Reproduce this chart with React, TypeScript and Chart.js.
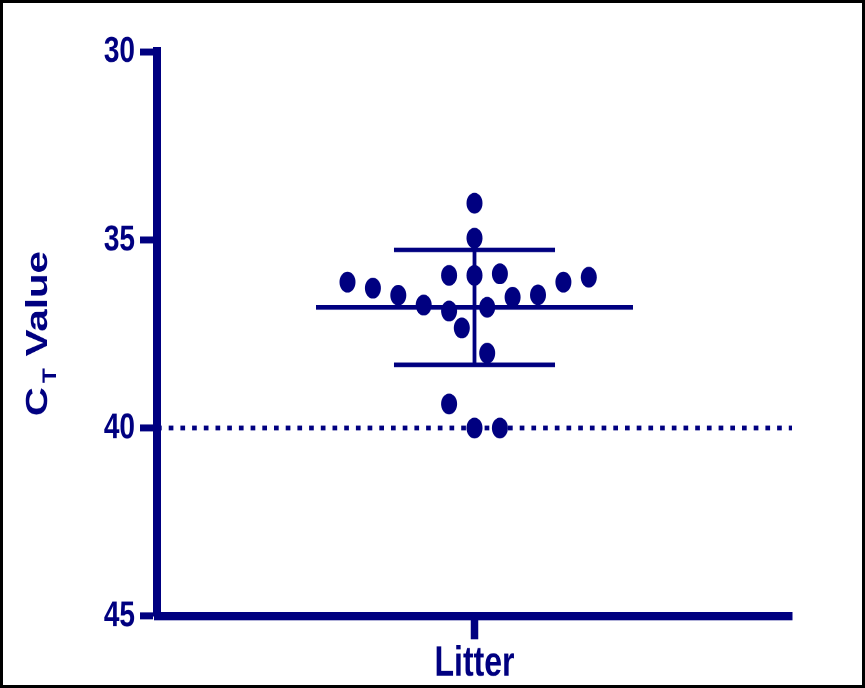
import React, { useEffect, useRef } from "react";
import { Chart, registerables } from "chart.js";

Chart.register(...registerables);

// ---- data ----
const categories = ["Litter"];
const jitter = [-5, -4, -3, -2, -1, -1, -0.5, 0, 0, 0, 0.5, 0.5, 1, 1.5, 2.5, 3.5, 4.5, -1, 0, 1];
const ctValues = [36.12, 36.28, 36.47, 36.73, 35.94, 36.89, 37.34, 34.02, 34.95, 35.94, 36.79, 38.01, 35.9, 36.52, 36.46, 36.12, 35.99, 39.36, 40.0, 40.0];
const yTicks = [30, 35, 40, 45];
const detectionLimit = [40];

// ---- style ----
const NAVY = "#000080";
const FONT = "'Liberation Sans', Arial, Helvetica, sans-serif";
const W = 865;
const H = 529;
const FINAL_H = 688;
const SY = FINAL_H / H;
const X_HALF = 12.5;
const MEAN_HALF = 6.24;
const SD_HALF = 3.17;

function mean(a: number[]) {
  return a.reduce((s, v) => s + v, 0) / a.length;
}
function sd(a: number[]) {
  const m = mean(a);
  return Math.sqrt(a.reduce((s, v) => s + (v - m) * (v - m), 0) / (a.length - 1));
}

const titlePlugin = {
  id: "ctTitle",
  afterDraw(chart: any) {
    const ctx = chart.ctx as CanvasRenderingContext2D;
    ctx.save();
    ctx.fillStyle = NAVY;
    ctx.textAlign = "left";
    ctx.textBaseline = "alphabetic";
    ctx.translate(47, 320);
    ctx.rotate(-Math.PI / 2);
    const big = `bold 31px ${FONT}`;
    const small = `bold 19px ${FONT}`;
    ctx.font = big;
    ctx.fillText("C", 0, 0);
    let x = ctx.measureText("C").width + 3;
    ctx.font = small;
    ctx.fillText("T", x, 9);
    x += ctx.measureText("T").width + 9;
    ctx.font = big;
    ctx.fillText("Value", x, 0);
    ctx.restore();
  },
};

export default function App() {
  const ref = useRef<HTMLCanvasElement | null>(null);

  useEffect(() => {
    const canvas = ref.current;
    if (!canvas) return;
    const m = mean(ctValues);
    const s = sd(ctValues);
    const lineDs = (data: { x: number; y: number }[], width: number, dash: number[] = []) => ({
      type: "line" as const,
      data,
      showLine: true,
      borderColor: NAVY,
      borderWidth: width,
      borderDash: dash,
      borderCapStyle: "butt" as const,
      pointRadius: 0,
      fill: false,
      tension: 0,
    });

    const chart = new Chart(canvas, {
      type: "scatter",
      data: {
        datasets: [
          lineDs(
            [
              { x: -X_HALF, y: detectionLimit[0] },
              { x: X_HALF, y: detectionLimit[0] },
            ],
            3.6,
            [4.7, 7]
          ),
          lineDs([{ x: -MEAN_HALF, y: m }, { x: MEAN_HALF, y: m }], 3.6),
          lineDs([{ x: -SD_HALF, y: m - s }, { x: SD_HALF, y: m - s }], 3.6),
          lineDs([{ x: -SD_HALF, y: m + s }, { x: SD_HALF, y: m + s }], 3.6),
          lineDs([{ x: 0, y: m - s }, { x: 0, y: m + s }], 3.8),
          {
            type: "scatter" as const,
            label: categories[0],
            data: ctValues.map((v, i) => ({ x: jitter[i], y: v })),
            pointRadius: 8,
            pointHoverRadius: 8,
            pointBackgroundColor: NAVY,
            pointBorderWidth: 0,
            borderColor: NAVY,
          },
        ] as any,
      },
      options: {
        animation: false,
        responsive: false,
        devicePixelRatio: 2,
        layout: { padding: { top: 40, right: W - 792, left: 0, bottom: 0 } },
        plugins: { legend: { display: false }, tooltip: { enabled: false } },
        scales: {
          x: {
            type: "linear",
            min: -X_HALF,
            max: X_HALF,
            afterBuildTicks: (sc: any) => {
              sc.ticks = [{ value: 0 }];
            },
            afterFit: (sc: any) => {
              sc.height = 55.4;
            },
            ticks: {
              callback: () => categories[0],
              color: NAVY,
              font: { family: FONT, size: 32, weight: "bold" },
              padding: 0,
              maxRotation: 0,
              autoSkip: false,
            },
            grid: {
              display: true,
              drawOnChartArea: false,
              drawTicks: true,
              tickLength: 18,
              tickWidth: 7.5,
              tickColor: NAVY,
              color: NAVY,
            },
            border: { display: true, color: NAVY, width: 6.5 },
          },
          y: {
            type: "linear",
            reverse: true,
            min: 30,
            max: 45,
            afterBuildTicks: (sc: any) => {
              sc.ticks = yTicks.map((v) => ({ value: v }));
            },
            afterFit: (sc: any) => {
              sc.width = 157;
            },
            ticks: {
              color: NAVY,
              font: { family: FONT, size: 28, weight: "bold" },
              padding: 5,
            },
            grid: {
              display: true,
              drawOnChartArea: false,
              drawTicks: true,
              tickLength: 17,
              tickWidth: 5.4,
              tickColor: NAVY,
              color: NAVY,
            },
            border: { display: true, color: NAVY, width: 8 },
          },
        },
      } as any,
      plugins: [titlePlugin],
    });
    return () => chart.destroy();
  }, []);

  return (
    <div style={{ position: "fixed", left: 0, top: 0, width: W, height: FINAL_H, background: "#fff", overflow: "hidden" }}>
      <div style={{ width: W, height: H, transform: `scaleY(${SY})`, transformOrigin: "0 0" }}>
        <canvas ref={ref} width={W} height={H} style={{ width: W, height: H, display: "block" }} />
      </div>
      <div
        style={{
          position: "absolute",
          left: 0,
          top: 0,
          width: W,
          height: FINAL_H,
          border: "3px solid #000",
          boxSizing: "border-box",
          pointerEvents: "none",
        }}
      />
    </div>
  );
}
